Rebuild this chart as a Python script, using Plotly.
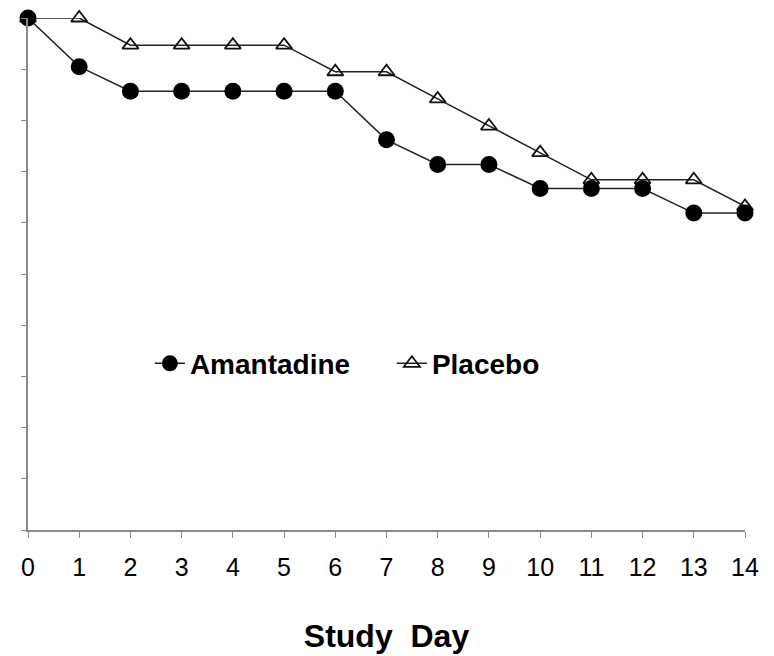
import plotly.graph_objects as go

days = list(range(15))
amantadine = [100, 90.5, 85.7, 85.7, 85.7, 85.7, 85.7, 76.2, 71.4, 71.4, 66.7, 66.7, 66.7, 61.9, 61.9]
placebo = [100, 100, 94.7, 94.7, 94.7, 94.7, 89.5, 89.5, 84.2, 78.9, 73.7, 68.4, 68.4, 68.4, 63.2]
x_ticks = list(range(15))

fig = go.Figure()
fig.add_trace(go.Scatter(
    x=days, y=placebo, name="Placebo", mode="lines+markers",
    line=dict(color="#222222", width=1.5),
    marker=dict(symbol="triangle-up-open", size=14, color="#111111", line=dict(width=1.8)),
    cliponaxis=False, legendrank=2,
))
fig.add_trace(go.Scatter(
    x=days, y=amantadine, name="Amantadine", mode="lines+markers",
    line=dict(color="#222222", width=1.5),
    marker=dict(symbol="circle", size=17, color="#000000"),
    cliponaxis=False, legendrank=1,
))

fig.update_layout(
    width=774, height=656,
    margin=dict(l=28, r=29, t=18, b=126, autoexpand=False),
    paper_bgcolor="white", plot_bgcolor="white",
    font=dict(family="Liberation Sans, Arial, sans-serif", color="#000000"),
    showlegend=True,
    legend=dict(
        orientation="h", x=0.17, y=0.325, xanchor="left", yanchor="middle",
        font=dict(size=28, family="Liberation Sans, Arial, sans-serif", weight="bold"),
        itemwidth=30, entrywidth=197, entrywidthmode="pixels",
        tracegroupgap=0, bgcolor="rgba(0,0,0,0)",
    ),
    xaxis=dict(
        range=[0, 14], tickmode="array", tickvals=x_ticks,
        ticktext=[str(t) for t in x_ticks],
        showgrid=False, zeroline=False, automargin=False,
        showline=True, linecolor="#8a8a8a", linewidth=1.5,
        ticks="outside", ticklen=6, tickcolor="#8a8a8a",
        tickfont=dict(size=25), ticklabelstandoff=8,
        title=dict(text="Study  Day", font=dict(size=32, weight="bold"), standoff=45),
    ),
    yaxis=dict(
        range=[0, 100], dtick=10, showticklabels=False,
        showgrid=False, zeroline=False, automargin=False,
        showline=True, linecolor="#8a8a8a", linewidth=1.5,
        ticks="outside", ticklen=5, tickcolor="#8a8a8a",
    ),
)

fig.write_html("out.html")
